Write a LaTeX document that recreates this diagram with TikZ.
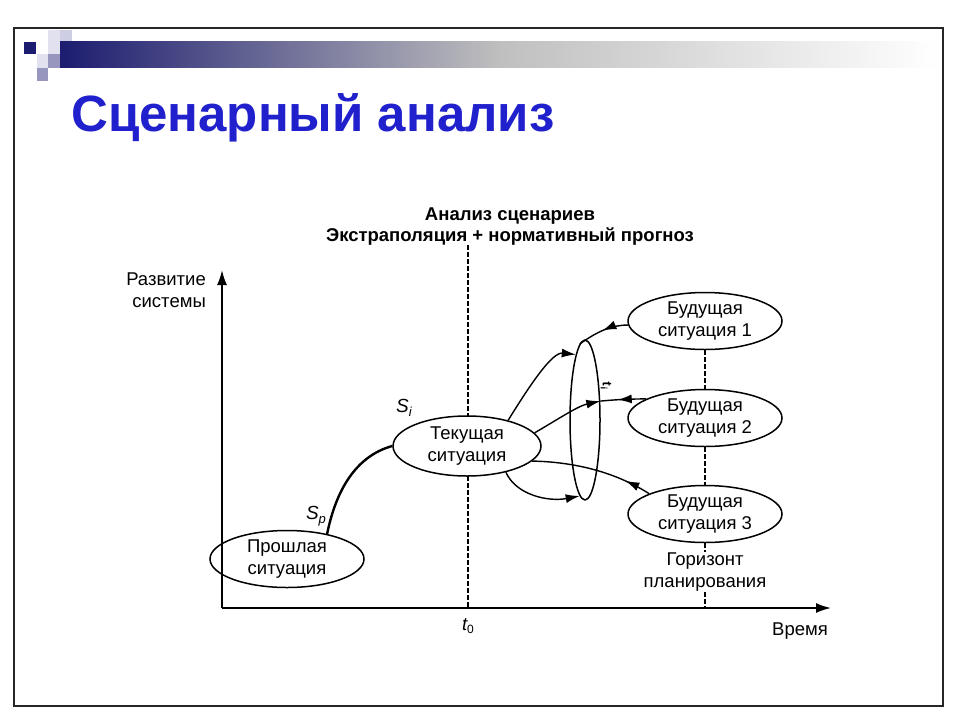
\documentclass[tikz,border=0pt]{standalone}
\usepackage{fontspec}
\setmainfont{Liberation Sans}
\usetikzlibrary{arrows.meta,decorations.markings,shapes.geometric}
\definecolor{navy}{RGB}{28,28,112}
\definecolor{titleblue}{RGB}{32,32,205}
\definecolor{lav1}{RGB}{205,205,228}
\definecolor{lav2}{RGB}{150,150,190}
\definecolor{lav3}{RGB}{225,225,240}
\begin{document}
\begin{tikzpicture}[x=1pt,y=-1pt,
  txt/.style={font=\fontsize{18.5}{22}\selectfont, align=center, inner sep=1pt},
  sit/.style={draw, ellipse, fill=white, line width=1.5pt, minimum width=154pt, minimum height=57pt, inner sep=-12pt, align=center, font=\fontsize{18.5}{22}\selectfont},
  tip/.style={-{Latex[length=14pt,width=9pt]}},
  con/.style={line width=1.4pt},
  midarrow/.style={postaction={decorate}, decoration={markings, mark=at position #1 with {\arrow{Latex[length=14pt,width=9pt]}}}},
  dsh/.style={line width=1.2pt, dash pattern=on 4.5pt off 2.5pt},
  axis/.style={line width=1.8pt, -{Latex[length=15pt,width=10pt]}}
]
\useasboundingbox (0,0) rectangle (960,720);
\fill[white] (0,0) rectangle (960,720);
% frame
\draw[line width=1.3pt, black!85] (14,28) rectangle (943,706);
% header squares
\fill[lav3] (48,30) rectangle (72,54);
\fill[lav1] (60,30) rectangle (72,54);
\fill[navy] (24,42) rectangle (36,54);
\fill[lav3] (37,54) rectangle (48,68);
\fill[lav2] (37,68) rectangle (48,81);
\fill[lav2] (48,54) rectangle (60,68);
\shade[left color=navy, right color=white, middle color=black!25] (60,41) rectangle (940,67);
% title
\node[anchor=base west, text=titleblue, font=\bfseries\fontsize{51}{56}\selectfont, inner sep=0pt] (title) at (71,131) {Сценарный анализ};
% subtitle
\node[font=\bfseries\fontsize{18.5}{21}\selectfont, align=center] (sub) at (510,227) {Анализ сценариев\\Экстраполяция + нормативный прогноз};
% dashed verticals
\coordinate (t0top) at (468,245);
\coordinate (t0bot) at (468,608);
\draw[dsh] (t0top) -- (t0bot);
\coordinate (hzbot) at (705,608);
% nodes
\node[sit] (past) at (287,559) {Прошлая\\ситуация};
\node[sit, minimum width=148pt, minimum height=60pt] (cur) at (467,446) {Текущая\\ситуация};
\node[sit] (fut1) at (705,321) {Будущая\\ситуация 1};
\node[sit] (fut2) at (705,418) {Будущая\\ситуация 2};
\node[sit] (fut3) at (705,514) {Будущая\\ситуация 3};
\draw[dsh] (fut1.south) -- (fut2.north);
\draw[dsh] (fut2.south) -- (fut3.north);
\draw[dsh] (fut3.south) -- (hzbot);
\node[txt, fill=white] (hz) at (705,572) {Горизонт\\планирования};
% axes
\coordinate (O) at (222,608);
\coordinate (ytop) at (222,270);
\coordinate (xend) at (831,608);
\draw[axis] (O) -- (ytop);
\draw[axis] (O) -- (xend);
\node[txt, anchor=east, align=right] (ylab) at (207,290) {Развитие\\системы};
\node[txt] (xlab) at (800,631) {Время};
\node[txt] (t0) at (468,626) {\itshape t\raisebox{-3pt}{\fontsize{12}{12}\selectfont\upshape 0}};
% ring
\node[draw, ellipse, line width=1.5pt, minimum width=30pt, minimum height=160pt, inner sep=0pt] (ring) at (585,420) {};
\node[font=\fontsize{13}{13}\selectfont\bfseries\itshape, rotate=-80] (ti) at (606,386) {t\textsubscript{i}};
% past to current
\draw[line width=2.4pt] (past.32) .. controls (336,490) and (356,456) .. (cur.180);
\node[txt, font=\fontsize{19}{19}\selectfont\itshape] (sp) at (316,516) {S\raisebox{-3.5pt}{\fontsize{13}{13}\selectfont p}};
\node[txt, font=\fontsize{19}{19}\selectfont\itshape] (si) at (404,408) {S\raisebox{-3.5pt}{\fontsize{13}{13}\selectfont i}};
% connectors
\draw[con, tip] (cur.32) .. controls (530,385) and (552,352) .. (ring.98);
\draw[con, midarrow=0.5] (fut1.183) .. controls (612,325) and (598,331) .. (ring.94);
\draw[con, tip] (cur.11) .. controls (560,418) and (578,406) .. (ring.51);
\draw[con, midarrow=0.62] (fut2.162) .. controls (625,399) and (612,400) .. (ring.51);
\draw[con, midarrow=0.22] (fut3.160) .. controls (615,472) and (575,462) .. (cur.-13);
\draw[con, tip] (cur.-34) .. controls (516,495) and (548,502) .. (ring.266);
\end{tikzpicture}
\end{document}
